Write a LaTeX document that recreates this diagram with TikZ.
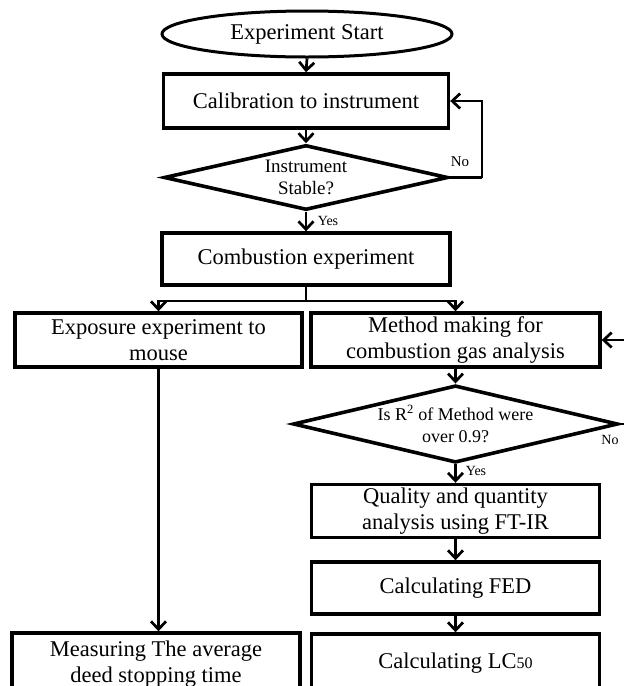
\documentclass[tikz,border=0pt]{standalone}
\usepackage{fontspec}
\setmainfont{Liberation Serif}
\usetikzlibrary{shapes.geometric,arrows.meta}
\begin{document}
\begin{tikzpicture}[x=1pt,y=-1pt,
  box/.style={draw, line width=3.4pt, align=center, inner sep=0pt,
    font=\fontsize{22.5}{26}\selectfont},
  startbox/.style={draw, ellipse, line width=3pt, inner sep=0pt,
    minimum width=290pt, minimum height=46pt, font=\fontsize{22.5}{26}\selectfont},
  decision/.style={draw, diamond, line width=3.6pt, inner sep=0pt, align=center},
  arr/.style={line width=2.7pt, -{Straight Barb[length=8pt,width=15pt,line width=2.7pt]}},
  conn/.style={line width=2.7pt},
  lbl/.style={inner sep=0pt, font=\fontsize{14}{16}\selectfont}
]
\useasboundingbox (0,0) rectangle (624,686);
\clip (0,0) rectangle (624,686);
\fill[white] (0,0) rectangle (624,686);

\node[startbox] (start) at (307,34) {Experiment Start};
\node[box, minimum width=285pt, minimum height=54pt] (calib) at (306,101) {Calibration to instrument};
\node[decision, minimum width=284pt, minimum height=65pt, aspect=4.37,
  font=\fontsize{19}{22.5}\selectfont] (stab) at (306,177.5) {\raisebox{-3pt}{\parbox{90pt}{\centering Instrument\\Stable?}}};
\node[box, minimum width=288pt, minimum height=52pt] (comb) at (306,259) {Combustion experiment};
\coordinate (split) at (306,301);

\node[box, minimum width=287pt, minimum height=54pt] (expo) at (158.5,340) {Exposure experiment to\\mouse};
\node[box, minimum width=289pt, minimum height=54pt] (meth) at (455.5,340) {Method making for\\combustion gas analysis};
\node[decision, minimum width=284pt, minimum height=68pt, aspect=4.2,
  font=\fontsize{18}{22}\selectfont] (isr) at (455.5,424) {\raisebox{-3pt}{\parbox{170pt}{\centering Is R\textsuperscript{2} of Method were\\over 0.9?}}};
\node[box, minimum width=288pt, minimum height=53pt] (qual) at (455.5,511) {Quality and quantity\\analysis using FT-IR};
\node[box, minimum width=288pt, minimum height=52pt] (fed) at (455.5,588) {Calculating FED};
\node[box, minimum width=288pt, minimum height=58pt] (lc) at (455.5,663) {Calculating LC{\fontsize{16}{16}\selectfont 50}};
\node[box, minimum width=288pt, minimum height=62pt] (meas) at (156,664) {Measuring The average\\deed stopping time};

\coordinate (noA) at (482,177.5);
\coordinate (redgeA) at (630,424);
\coordinate (redgeB) at (630,340);

\draw[arr] (start.south) -- (calib.north);
\draw[arr] (calib.south) -- (stab.north);
\draw[arr] (stab.south) -- (comb.north);
\draw[conn] (stab.east) -- (noA);
\draw[arr] (noA) |- (calib.east);
\draw[conn] (comb.south) -- (split);
\draw[arr] (split) -| (expo.north);
\draw[arr] (split) -| (meth.north);
\draw[arr] (meth.south) -- (isr.north);
\draw[arr] (isr.south) -- (qual.north);
\draw[arr] (qual.south) -- (fed.north);
\draw[arr] (fed.south) -- (lc.north);
\draw[arr] (expo.south) -- (expo.south |- meas.north);
\draw[conn] (isr.east) -- (redgeA);
\draw[arr] (redgeB) -- (meth.east);

\node[lbl, font=\fontsize{15}{17}\selectfont] (noL1) at (460,162) {No};
\node[lbl] (yesL1) at (328,221) {Yes};
\node[lbl] (yesL2) at (476,471) {Yes};
\node[lbl] (noL2) at (610,440) {No};
\end{tikzpicture}
\end{document}
